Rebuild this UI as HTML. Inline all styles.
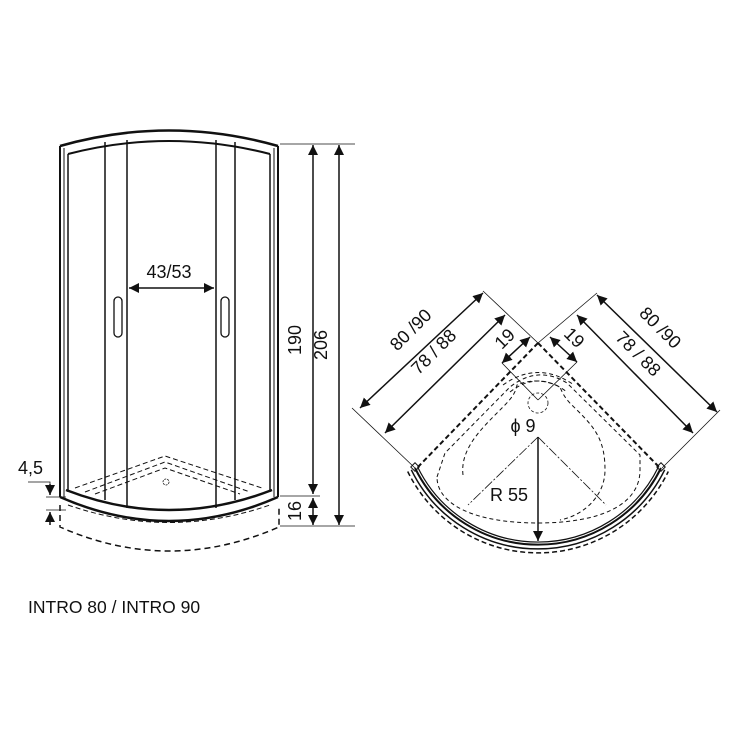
<!DOCTYPE html>
<html><head><meta charset="utf-8"><style>
html,body{margin:0;padding:0;background:#fff;}
svg{display:block;}
text{font-family:"Liberation Sans Narrow","Liberation Sans","DejaVu Sans",sans-serif;fill:#111;}
</style></head><body>
<svg width="740" height="740" viewBox="0 0 740 740" xmlns="http://www.w3.org/2000/svg">
<defs>
<marker id="a" viewBox="0 0 10 10" refX="10" refY="5" markerWidth="10" markerHeight="10" markerUnits="userSpaceOnUse" orient="auto-start-reverse"><path d="M0,0 L10,5 L0,10 z" fill="#111"/></marker>
</defs>
<g stroke="#111" fill="none">
<!-- left front view -->
<path d="M60,146 Q169,115 278,146" stroke-width="2.5"/>
<path d="M68,154 Q169,128 270,154" stroke-width="2"/>
<line x1="60" y1="146" x2="60" y2="497" stroke-width="2"/>
<line x1="64" y1="148" x2="64" y2="497" stroke-width="1"/>
<line x1="68" y1="154" x2="68" y2="492" stroke-width="1.5"/>
<line x1="278" y1="146" x2="278" y2="497" stroke-width="2"/>
<line x1="274" y1="148" x2="274" y2="497" stroke-width="1"/>
<line x1="270" y1="154" x2="270" y2="492" stroke-width="1.5"/>
<line x1="105" y1="142" x2="105" y2="500" stroke-width="1.5"/>
<line x1="127" y1="140" x2="127" y2="508" stroke-width="1.5"/>
<line x1="216" y1="140" x2="216" y2="508" stroke-width="1.5"/>
<line x1="235" y1="142" x2="235" y2="500" stroke-width="1.5"/>
<rect x="114" y="297" width="8" height="40" rx="4" stroke-width="1.3"/>
<rect x="221" y="297" width="8" height="40" rx="4" stroke-width="1.3"/>
<line x1="129" y1="288" x2="214" y2="288" stroke-width="1.5" marker-start="url(#a)" marker-end="url(#a)"/>
<path d="M66,490 Q169,530 272,490" stroke-width="2.5"/>
<path d="M60,497 Q169,545 278,497" stroke-width="2.5"/>
<path d="M60,505 L60,527 Q169,575 279,527 L279,505" stroke-width="1.5" stroke-dasharray="6,4"/>
<path d="M68,505 Q169,540 270,505" stroke-width="1" stroke-dasharray="5,3"/>
<path d="M75,488 L165,456 L262,488" stroke-width="1" stroke-dasharray="5,3"/>
<path d="M85,492 L165,462 L250,492" stroke-width="1" stroke-dasharray="5,3"/>
<path d="M95,494 L165,468 L240,494" stroke-width="1" stroke-dasharray="5,3"/>
<circle cx="166" cy="482" r="3" stroke-width="0.8" stroke-dasharray="2,1"/>
<line x1="280" y1="144" x2="355" y2="144" stroke-width="0.8"/>
<line x1="280" y1="496" x2="320" y2="496" stroke-width="0.8"/>
<line x1="280" y1="526" x2="355" y2="526" stroke-width="0.8"/>
<line x1="313" y1="145" x2="313" y2="494" stroke-width="1.5" marker-start="url(#a)" marker-end="url(#a)"/>
<line x1="313" y1="498" x2="313" y2="525" stroke-width="1.5" marker-start="url(#a)" marker-end="url(#a)"/>
<line x1="339" y1="145" x2="339" y2="525" stroke-width="1.5" marker-start="url(#a)" marker-end="url(#a)"/>
<polyline points="28,482 50,482 50,492" stroke-width="0.8"/>
<line x1="50" y1="484" x2="50" y2="495" stroke-width="1.5" marker-end="url(#a)"/>
<line x1="50" y1="525" x2="50" y2="512" stroke-width="1.5" marker-end="url(#a)"/>
<line x1="46" y1="497" x2="66" y2="497" stroke-width="0.8"/>
<line x1="46" y1="510" x2="66" y2="510" stroke-width="0.8"/>

<!-- right plan view -->
<line x1="483" y1="291" x2="538" y2="343" stroke-width="0.8"/>
<line x1="597" y1="293" x2="538" y2="343" stroke-width="0.8"/>
<line x1="415" y1="468" x2="352" y2="408" stroke-width="0.8"/>
<line x1="662" y1="468" x2="720" y2="410" stroke-width="0.8"/>
<line x1="502" y1="363" x2="538" y2="400" stroke-width="0.8"/>
<line x1="577" y1="362" x2="538" y2="400" stroke-width="0.8"/>
<line x1="538" y1="437" x2="468" y2="505" stroke-width="0.8" stroke-dasharray="10,2,2,2"/>
<line x1="538" y1="437" x2="606" y2="505" stroke-width="0.8" stroke-dasharray="10,2,2,2"/>
<line x1="360" y1="408" x2="483" y2="293" stroke-width="1.5" marker-start="url(#a)" marker-end="url(#a)"/>
<line x1="385" y1="433" x2="505" y2="315" stroke-width="1.5" marker-start="url(#a)" marker-end="url(#a)"/>
<line x1="597" y1="295" x2="717" y2="412" stroke-width="1.5" marker-start="url(#a)" marker-end="url(#a)"/>
<line x1="577" y1="315" x2="693" y2="433" stroke-width="1.5" marker-start="url(#a)" marker-end="url(#a)"/>
<line x1="502" y1="363" x2="530" y2="337" stroke-width="1.5" marker-start="url(#a)" marker-end="url(#a)"/>
<line x1="550" y1="337" x2="577" y2="362" stroke-width="1.5" marker-start="url(#a)" marker-end="url(#a)"/>
<line x1="538" y1="343" x2="418" y2="467" stroke-width="2" stroke-dasharray="5,3"/>
<line x1="538" y1="343" x2="659" y2="467" stroke-width="2" stroke-dasharray="5,3"/>
<path d="M415,468 A137,137 0 0 0 661,468" stroke-width="2"/>
<path d="M417.5,466.7 A134,134 0 0 0 658.5,466.7" stroke-width="1.2"/>
<path d="M411.3,469.8 A141,141 0 0 0 664.7,469.8" stroke-width="1.5"/>
<path d="M407.7,471.5 A145,145 0 0 0 668.3,471.5" stroke-width="1.5" stroke-dasharray="5,3"/>
<rect x="412" y="464" width="6" height="6" stroke-width="1" transform="rotate(45 415 467)"/>
<rect x="658" y="464" width="6" height="6" stroke-width="1" transform="rotate(45 661 467)"/>
<line x1="538" y1="437" x2="538" y2="541" stroke-width="1.5" marker-end="url(#a)"/>
<circle cx="538" cy="403" r="10" stroke-width="0.8" stroke-dasharray="3,2"/>
<path d="M437,477 L445,453 L510,387 Q538,365 567,383 L640,455 L640,470 C640,505 600,523 538,523 C476,523 437,505 437,477" stroke-width="1" stroke-dasharray="4,3"/>
<path d="M463,475 C460,450 480,430 498,412 C510,400 515,395 517,385 Q538,376 560,387 C565,400 572,405 577,410 C595,428 605,440 605,470 C605,495 585,515 560,520" stroke-width="1" stroke-dasharray="4,3"/>
<path d="M503,385 Q538,360 574,385" stroke-width="1" stroke-dasharray="4,3"/>
<path d="M510,392 Q538,370 567,392" stroke-width="1" stroke-dasharray="4,3"/>
</g>
<g font-size="18">
<text x="169" y="278" text-anchor="middle">43/53</text>
<text transform="translate(301,340) rotate(-90)" text-anchor="middle">190</text>
<text transform="translate(327,345) rotate(-90)" text-anchor="middle">206</text>
<text transform="translate(301,511) rotate(-90)" text-anchor="middle">16</text>
<text x="18" y="474">4,5</text>
<text transform="translate(415,334) rotate(-45)" text-anchor="middle">80 /90</text>
<text transform="translate(438,356) rotate(-45)" text-anchor="middle">78 / 88</text>
<text transform="translate(656,332) rotate(45)" text-anchor="middle">80 /90</text>
<text transform="translate(634,358) rotate(45)" text-anchor="middle">78 / 88</text>
<text transform="translate(509,343) rotate(-45)" text-anchor="middle">19</text>
<text transform="translate(570,342) rotate(45)" text-anchor="middle">19</text>
<text x="523" y="432" text-anchor="middle">ϕ 9</text>
<text x="509" y="501" text-anchor="middle">R 55</text>
<text x="28" y="613" font-size="17.5">INTRO 80 / INTRO 90</text>
</g>
</svg>
</body></html>
